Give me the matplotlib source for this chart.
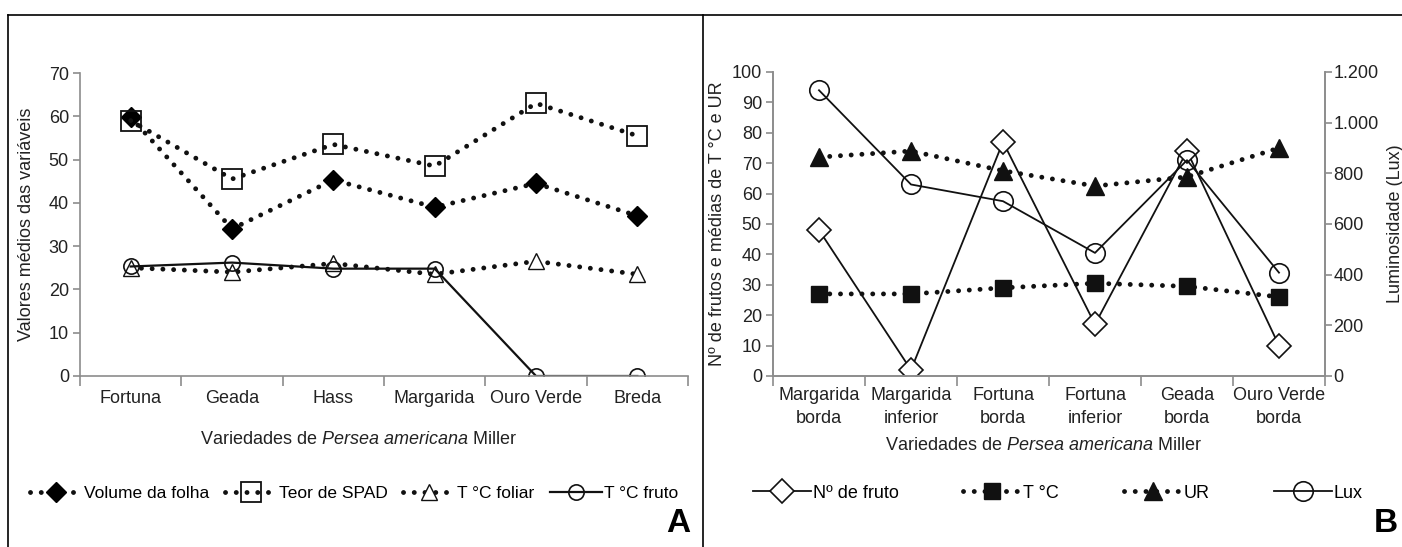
import matplotlib.pyplot as plt
from matplotlib.lines import Line2D

plt.rcParams['font.family'] = ['Liberation Sans', 'DejaVu Sans']
plt.rcParams['mathtext.fontset'] = 'custom'
plt.rcParams['mathtext.rm'] = 'Liberation Sans'
plt.rcParams['mathtext.it'] = 'Liberation Sans:italic'

# painel A
variedades_a = ['Fortuna', 'Geada', 'Hass', 'Margarida', 'Ouro Verde', 'Breda']
volume_folha = [59.8, 34.0, 45.3, 39.0, 44.5, 37.0]
teor_spad = [59.0, 45.5, 53.5, 48.5, 63.0, 55.5]
temp_foliar = [25.0, 24.0, 26.0, 23.5, 26.5, 23.5]
temp_fruto = [25.3, 26.2, 24.8, 24.8, 0.0, 0.0]

# painel B
locais_b = ['Margarida\nborda', 'Margarida\ninferior', 'Fortuna\nborda',
            'Fortuna\ninferior', 'Geada\nborda', 'Ouro Verde\nborda']
n_fruto = [48, 2, 77, 17, 74, 10]
temp_b = [27.0, 27.0, 29.0, 30.5, 29.5, 26.0]
ur_b = [72.0, 74.0, 67.5, 62.5, 65.5, 75.0]
lux_b = [1128, 756, 690, 486, 852, 408]
lux_ticks = [0, 200, 400, 600, 800, 1000, 1200]
lux_ticklabels = ['0', '200', '400', '600', '800', '1.000', '1.200']

W, H = 1402, 547
fig = plt.figure(figsize=(W / 100, H / 100), dpi=100)

GRAY = '#8c8c8c'
TXT = '#222222'
dot = (0, (0.01, 2.2))
TFS = 13


def estilo_eixo(ax, n, labels):
    for s in ax.spines.values():
        s.set_color(GRAY)
        s.set_linewidth(1.2)
    ax.set_xlim(-0.5, n - 0.5)
    ax.set_xticks([i - 0.5 for i in range(n + 1)])
    ax.set_xticklabels([])
    ax.set_xticks(range(n), minor=True)
    ax.set_xticklabels(labels, minor=True, fontsize=TFS, color=TXT, linespacing=1.45)
    ax.tick_params(axis='x', which='major', direction='out', length=7, color=GRAY, width=1.2)
    ax.tick_params(axis='x', which='minor', length=0, pad=10)
    ax.tick_params(axis='y', direction='out', length=5, color=GRAY, width=1.2,
                   labelsize=TFS, labelcolor=TXT, pad=3)


# ---------------- A ----------------
axA = fig.add_axes([80 / W, 1 - 376 / H, 608 / W, 303 / H])
x = range(len(variedades_a))
dotkw = dict(color='#111111', linestyle=dot, linewidth=3.5, dash_capstyle='round')
axA.plot(x, volume_folha, marker='D', markersize=10, markerfacecolor='black',
         markeredgecolor='black', label='Volume da folha', **dotkw)
axA.plot(x, teor_spad, marker='s', markersize=15, markerfacecolor='none',
         markeredgecolor='#111111', markeredgewidth=1.3, label='Teor de SPAD', **dotkw)
axA.plot(x, temp_foliar, marker='^', markersize=11, markerfacecolor='white',
         markeredgecolor='#111111', markeredgewidth=1.0, label='T °C foliar', **dotkw)
axA.plot(x, temp_fruto, color='#111111', linewidth=1.6, marker='o', markersize=11,
         markerfacecolor='none', markeredgecolor='#111111', markeredgewidth=1.2,
         label='T °C fruto')
axA.set_ylim(0, 70)
axA.set_yticks(range(0, 71, 10))
estilo_eixo(axA, 6, variedades_a)
axA.spines['top'].set_visible(False)
axA.spines['right'].set_visible(False)
axA.set_ylabel('Valores médios das variáveis', fontsize=TFS, color=TXT, labelpad=10)

fig.text(358 / W, 1 - 439 / H, 'Variedades de $\\it{Persea\\ americana}$ Miller',
         ha='center', va='center', fontsize=TFS, color=TXT)
fig.legend(*axA.get_legend_handles_labels(), loc='center', bbox_to_anchor=(354 / W, 1 - 493 / H),
           ncol=4, frameon=False, fontsize=12.5, handlelength=3.0, handletextpad=0.1,
           columnspacing=0.9, numpoints=1)
fig.text(690 / W, 1 - 524 / H, 'A', ha='right', va='center', fontsize=24, fontweight='bold')

# ---------------- B ----------------
axB = fig.add_axes([773 / W, 1 - 376 / H, 552 / W, 304 / H])
axL = axB.twinx()
xb = range(len(locais_b))
axB.plot(xb, n_fruto, color='#111111', linewidth=1.3, marker='D', markersize=12,
         markerfacecolor='white', markeredgecolor='#111111', markeredgewidth=1.2,
         label='Nº de fruto')
axB.plot(xb, temp_b, marker='s', markersize=11, markerfacecolor='#111111',
         markeredgecolor='#111111', label='T °C', **dotkw)
axB.plot(xb, ur_b, marker='^', markersize=13, markerfacecolor='#111111',
         markeredgecolor='#111111', label='UR', **dotkw)
axL.plot(xb, lux_b, color='#111111', linewidth=1.3, marker='o', markersize=14,
         markerfacecolor='none', markeredgecolor='#111111', markeredgewidth=1.2,
         label='Lux')
axB.set_ylim(0, 100)
axB.set_yticks(range(0, 101, 10))
axL.set_ylim(0, 1200)
axL.set_yticks(lux_ticks)
axL.set_yticklabels(lux_ticklabels)
estilo_eixo(axB, 6, locais_b)
axB.tick_params(axis='x', which='minor', pad=8)
axB.spines['top'].set_visible(False)
for s in axL.spines.values():
    s.set_color(GRAY)
    s.set_linewidth(1.2)
axL.spines['top'].set_visible(False)
axL.tick_params(axis='y', direction='out', length=5, color=GRAY, width=1.2,
                labelsize=TFS, labelcolor=TXT, pad=1)
axB.set_ylabel('Nº de frutos e médias de T °C e UR', fontsize=TFS, color=TXT, labelpad=4)
axL.set_ylabel('Luminosidade (Lux)', fontsize=TFS, color=TXT, labelpad=6)

fig.text(1043 / W, 1 - 445 / H, 'Variedades de $\\it{Persea\\ americana}$ Miller',
         ha='center', va='center', fontsize=TFS, color=TXT)
hB, lB = axB.get_legend_handles_labels()
hL, lL = axL.get_legend_handles_labels()
fig.legend(hB + hL, lB + lL, loc='center', bbox_to_anchor=(1058 / W, 1 - 493 / H),
           ncol=4, frameon=False, fontsize=TFS, handlelength=3.2, handletextpad=0.1,
           columnspacing=3.6, numpoints=1)
fig.text(1398 / W, 1 - 524 / H, 'B', ha='right', va='center', fontsize=24, fontweight='bold')

# molduras dos paineis
fig.add_artist(Line2D([8 / W, 1], [1 - 15 / H, 1 - 15 / H], color='black', linewidth=1.2))
fig.add_artist(Line2D([8 / W, 8 / W], [0, 1 - 15 / H], color='black', linewidth=1.2))
fig.add_artist(Line2D([703 / W, 703 / W], [0, 1 - 15 / H], color='black', linewidth=1.2))

fig.savefig('out.png', dpi=100)
